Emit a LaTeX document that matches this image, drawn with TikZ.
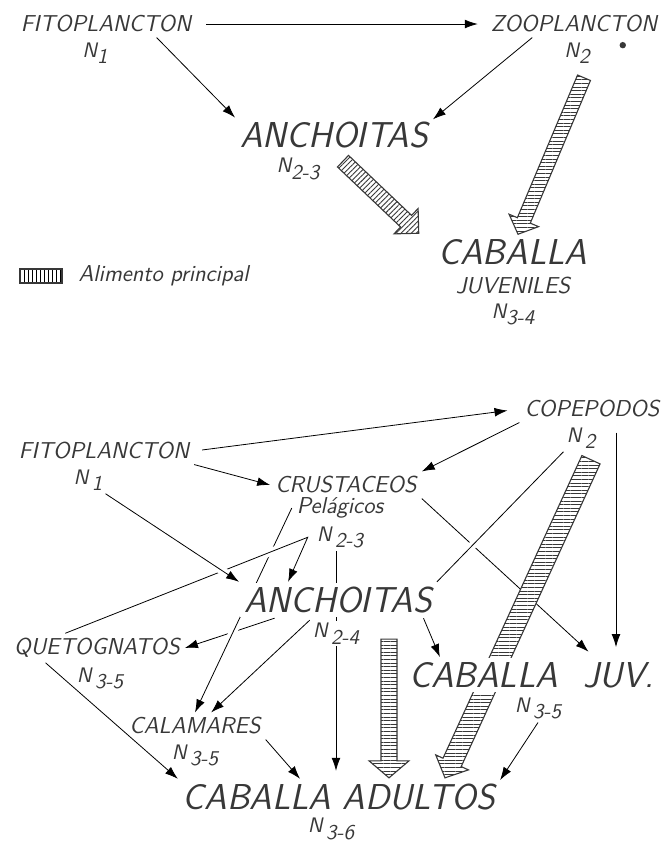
\documentclass[tikz,border=0pt]{standalone}
\usepackage{fontspec}
\usepackage{xcolor}
\usetikzlibrary{calc,positioning,arrows.meta,patterns.meta,backgrounds}
\definecolor{ink}{HTML}{383838}
\newcommand\namefont{\sffamily\itshape\fontsize{11.5}{13}\selectfont\addfontfeatures{FakeBold=1}}
\newcommand\bigfont{\sffamily\itshape\fontsize{18}{20}\selectfont\addfontfeatures{FakeBold=0.8}}
\newcommand\levelfont{\sffamily\itshape\fontsize{10.5}{12}\selectfont\addfontfeatures{FakeBold=1}}
\newcommand\lvl[2][]{N#1\raisebox{-3.2pt}{#2}}
\tikzset{
  taxon/.style={ % image of a group name
    font=\namefont, text=ink, inner sep=2pt
  },
  bigtaxon/.style={ % image of a main species
    font=\bigfont, text=ink, inner sep=2pt
  },
  level/.style={ % trophic level under a name
    font=\levelfont, text=ink, inner sep=1pt
  },
  mask/.style={fill=white},
  over/.style={ % line that runs over another one
    preaction={draw=white, line width=4pt, arrows=-}
  },
  band/.style={ % hatched arrow: main food
    draw=ink, line width=.55pt, preaction={fill=white}, pattern color=ink
  }
}
% [hatch angle]{half width}{head half width}{head length}{from}{to}
\newcommand\hatcharrow[6][0]{%
  \path #5 coordinate (ha) #6 coordinate (hb);
  \pgfmathanglebetweenpoints{\pgfpointanchor{ha}{center}}{\pgfpointanchor{hb}{center}}%
  \let\bandang\pgfmathresult
  \draw[band, pattern={Lines[angle=#1,distance=1.8pt,line width=.45pt]}]
    ($(ha)+({\bandang+90}:#2)$) -- ($(hb)+({\bandang+180}:#4)+({\bandang+90}:#2)$)
    -- ($(hb)+({\bandang+180}:#4)+({\bandang+90}:#3)$) -- (hb)
    -- ($(hb)+({\bandang+180}:#4)+({\bandang-90}:#3)$)
    -- ($(hb)+({\bandang+180}:#4)+({\bandang-90}:#2)$)
    -- ($(ha)+({\bandang-90}:#2)$) -- cycle;}

\begin{document}
\begin{tikzpicture}[
      x=0.5pt, y=-0.5pt, ->, >={Latex[length=6.5pt,width=4.4pt]},
      line width=1.1pt, color=ink
    ]
      \useasboundingbox (0,0) rectangle (672,843);

      % upper web
      \node[taxon] (fitoA) at (106,24) {FITOPLANCTON};
      \node[level, below=1pt of fitoA, xshift=-5.5pt] (fitoAn) {\lvl{1}};
      \node[taxon] (zoo) at (574,24) {ZOOPLANCTON};
      \node[level, below=1pt of zoo, xshift=1.5pt] (zoon) {\lvl{2}};
      \node[bigtaxon] (anchA) at (334,135) {ANCHOITAS};
      \node[level, below=1pt of anchA, xshift=-18pt] (anchAn) {\lvl{2-3}};
      \node[bigtaxon] (cabA) at (513,252) {CABALLA};
      \node[taxon, below=1pt of cabA] (juv) {JUVENILES};
      \node[level, below=1pt of juv] (cabAn) {\lvl{3-4}};
      \node[draw, line width=.7pt, minimum width=21pt, minimum height=7pt, inner sep=0pt,
        pattern={Lines[angle=90,distance=2pt,line width=.45pt]}] (key) at (41,276) {};
      \node[taxon, right=5.5pt of key, font=\namefont\addfontfeatures{LetterSpace=10}]
        (keytext) {Alimento principal};
      \fill ($(zoon.east)+(30,-8)$) circle (1.6pt);

      % lower web
      \node[taxon] (fitoB) at (104,451) {FITOPLANCTON};
      \node[level, below=1pt of fitoB, xshift=-8pt] (fitoBn) {\lvl[\,]{1}};
      \node[taxon] (cope) at (592,409) {COPEPODOS};
      \node[level, below=1pt of cope, xshift=-5.5pt] (copen) {\lvl[\,]{2}};
      \node[taxon] (crus) at (346,485) {CRUSTACEOS};
      \node[taxon, below=-3pt of crus, xshift=-3pt] (pel) {Pelágicos};
      \node[level, below=0pt of pel] (crusn) {\lvl[\,]{2-3}};
      \node[bigtaxon, mask] (anchB) at (338,600) {ANCHOITAS};
      \node[level, mask, below=1pt of anchB, xshift=-1pt] (anchBn) {\lvl[\,]{2-4}};
      \node[taxon] (quet) at (97,648) {QUETOGNATOS};
      \node[level, below=1pt of quet, xshift=1.5pt] (quetn) {\lvl[\,]{3-5}};
      \node[taxon] (cal) at (195,726) {CALAMARES};
      \node[level, below=1pt of cal] (caln) {\lvl[\,]{3-5}};
      \node[bigtaxon, mask] (cabB) at (532,675) {CABALLA\hspace{.7em}JUV.};
      \node[level, below=1pt of cabB, xshift=3pt] (cabBn) {\lvl[\,]{3-5}};
      \node[bigtaxon] (cabC) at (339,797) {CABALLA ADULTOS};
      \node[level, below=0pt of cabC, xshift=-4pt] (cabCn) {\lvl[\,]{3-6}};
      \coordinate[left=3pt of crusn.west] (turn);
      \coordinate (copeX) at ([xshift=12pt]cope.south);
      \coordinate (crusX) at ([xshift=-2pt]crusn.south);

      \begin{scope}[on background layer]
        \draw[shorten <=5pt, shorten >=4pt] (fitoA) -- (zoo);
        \draw (fitoA.-15) -- (anchA.170);
        \draw (zoo.198) -- (anchA.9);
        \hatcharrow[45]{4pt}{8.75pt}{8.75pt}{($(anchA.south)+(9,8)$)}{($(cabA.north west)+(-15,-1)$)}
        \hatcharrow{3.5pt}{8pt}{7.5pt}{($(zoon.south)+(7,11)$)}{($(cabA.north)+(5,0)$)}

        \draw[shorten <=4pt, shorten >=6pt] (fitoB.east) -- (cope.west);
        \draw (fitoB.south east) -- (crus.west);
        \draw (cope.south west) -- (crus.north east);
        \draw (anchB.196) -- (quet.east);
        \draw[over] (pel.west) -- (cal.north);
        \draw[over] (quet.155) -- (turn) -- (anchB.160);
        \draw[over] (fitoBn.south east) -- (anchB.north west);
        \draw[shorten >=4pt] (crus.south east) -- (cabB.16);
        \draw[-, over] (copen.south west) -- (anchB.north east);
        \draw[shorten <=5pt, shorten >=5pt] (copeX) -- (copeX |- cabB.north);
        \draw[shorten >=4pt] (crusX) -- (crusX |- cabC.north);
        \draw (anchBn.north west) -- (cal.40);
        \draw (anchB.-12) -- (cabB.169);
        \draw (quet.196) -- (cabC.north west);
        \draw (cal.south east) -- (cabC.155);
        \draw (cabBn.south) -- (cabC.6);
        \hatcharrow{4pt}{10pt}{8.5pt}{($(anchB.south)+(51,21)$)}{($(cabC.north)+(50,-1)$)}
        \hatcharrow{5pt}{9pt}{8.5pt}{($(copen.south)+(10,8)$)}{($(cabC.north)+(106,-1)$)}
      \end{scope}
    \end{tikzpicture}
\end{document}
